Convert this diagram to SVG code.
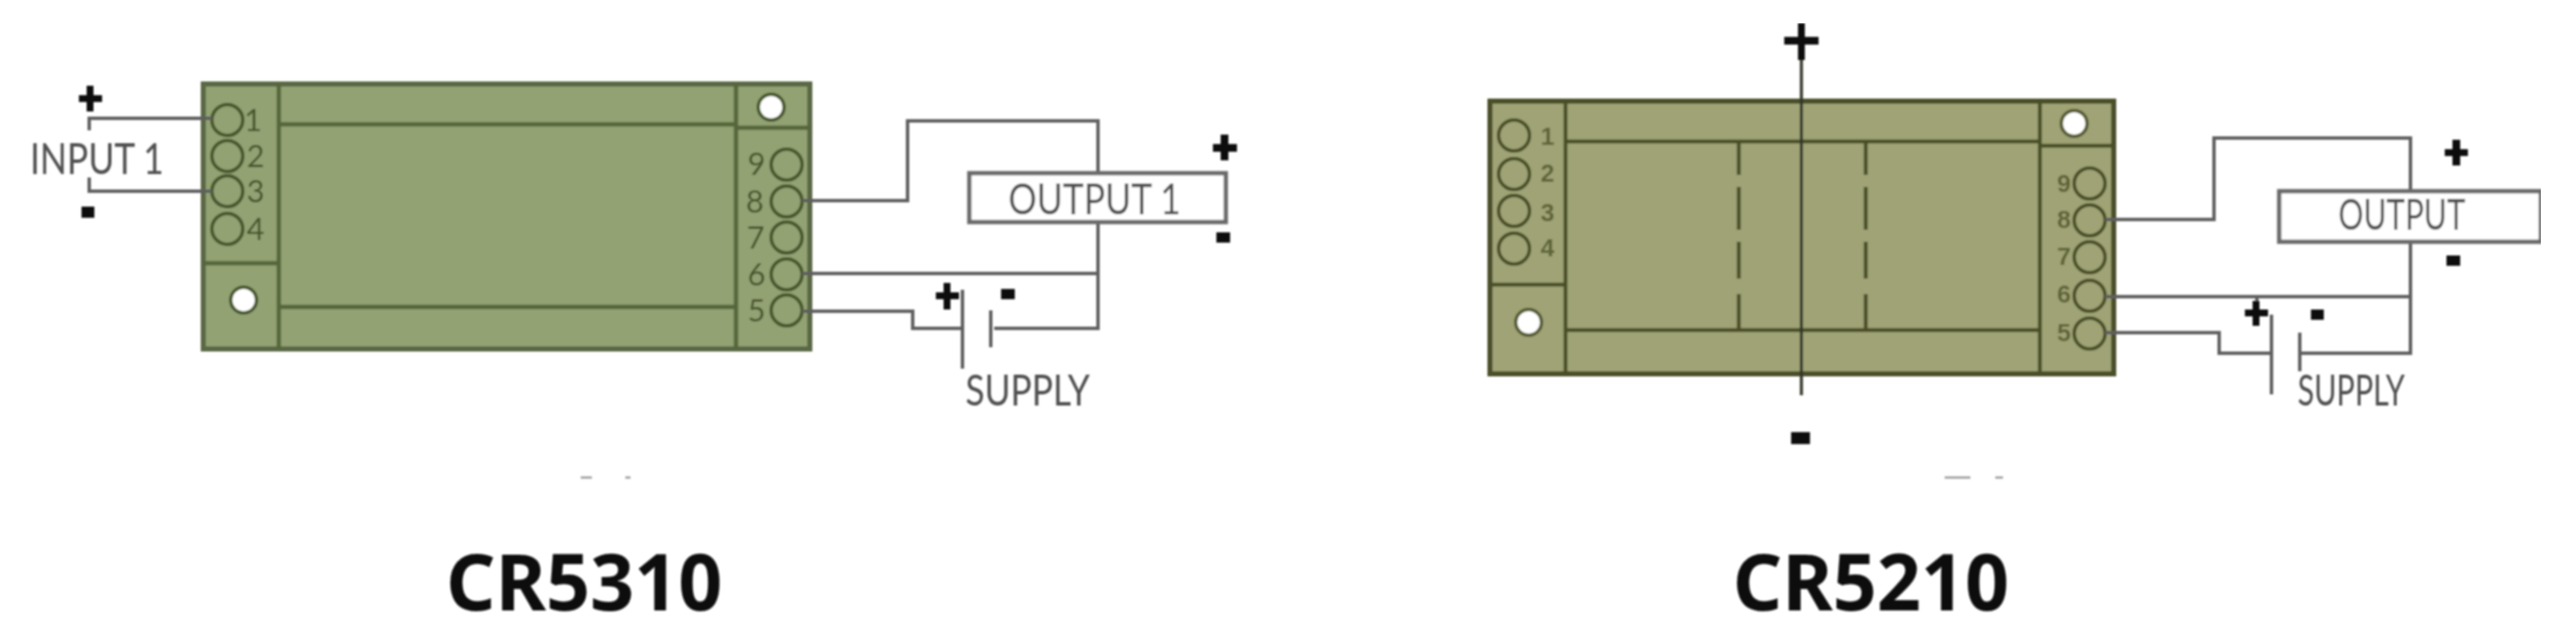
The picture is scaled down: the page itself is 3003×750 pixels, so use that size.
<svg xmlns="http://www.w3.org/2000/svg" width="3003" height="750" viewBox="0 0 3003 750">
<style>
.bg{fill:#fff}
.wire{fill:none;stroke:#5e5e5e;stroke-width:4}
.thin{fill:none;stroke:#33352a;stroke-width:3.5}
.a-body{fill:#93a273;stroke:#5a6844;stroke-width:6}
.a-line{fill:none;stroke:#55663a;stroke-width:5}
.a-term{fill:#93a273;stroke:#47572c;stroke-width:4}
.a-hole{fill:#fff;stroke:#47572c;stroke-width:4}
.a-num{font-family:"Lato","Liberation Sans",sans-serif;font-size:36px;fill:#47542c;text-anchor:middle}
.b-body{fill:#9fa374;stroke:#4b4f2c;stroke-width:6}
.b-line{fill:none;stroke:#4a4f28;stroke-width:4.5}
.b-term{fill:#9fa374;stroke:#4a4f28;stroke-width:4}
.b-hole{fill:#fff;stroke:#565b32;stroke-width:4}
.b-num{font-family:"Liberation Sans",sans-serif;font-weight:bold;font-size:29px;fill:#5f6338;text-anchor:middle}
.lab{font-family:"Lato","Liberation Sans",sans-serif;font-weight:400;font-size:50px;fill:#505050;text-anchor:middle}
.title{font-family:"Noto Sans","Open Sans",sans-serif;font-weight:bold;font-size:92px;fill:#0a0a0a;text-anchor:middle}
.box{fill:#fff;stroke:#6a6a6a;stroke-width:5}
.speck{fill:none;stroke:#999;stroke-width:2.5}
.mark{fill:#0d0d0d}
</style>
<defs><filter id="soft" x="0" y="0" width="100%" height="100%"><feGaussianBlur stdDeviation="1"/></filter></defs>
<rect class="bg" width="3003" height="750"/>
<g filter="url(#soft)">
<g id="unit-cr5310">
<rect class="a-body" x="237" y="98" width="707" height="309"/>
<path class="a-line" d="M325 98V407M858 98V407M325 145H858M858 149H944M237 307H325M325 358H858"/>
<ellipse class="a-hole" cx="899" cy="125" rx="15" ry="15"/>
<ellipse class="a-hole" cx="284" cy="350" rx="15" ry="15"/>
<circle class="a-term" cx="265" cy="140" r="18"/><circle class="a-term" cx="265" cy="182" r="18"/><circle class="a-term" cx="265" cy="223" r="18"/><circle class="a-term" cx="265" cy="267" r="18"/>
<text class="a-num" x="295" y="153">1</text><text class="a-num" x="298" y="195">2</text><text class="a-num" x="298" y="236">3</text><text class="a-num" x="298" y="280">4</text>
<circle class="a-term" cx="917" cy="192" r="18"/><circle class="a-term" cx="917" cy="235" r="18"/><circle class="a-term" cx="917" cy="277" r="18"/><circle class="a-term" cx="917" cy="320" r="18"/><circle class="a-term" cx="917" cy="362" r="18"/>
<text class="a-num" x="882" y="204">9</text><text class="a-num" x="880" y="248">8</text><text class="a-num" x="881" y="290">7</text><text class="a-num" x="882" y="333">6</text><text class="a-num" x="882" y="375">5</text>
</g>
<g id="unit-cr5210">
<rect class="b-body" x="1737" y="118" width="727" height="318"/>
<path class="b-line" d="M1825 118V436M2378 118V436M1825 165H2378M2378 170H2464M1737 332H1825M1825 385H2378"/>
<path class="b-line" d="M2027 165V204M2027 218V268M2027 282V325M2027 343V385M2175 165V204M2175 218V268M2175 282V325M2175 343V385"/>
<ellipse class="b-hole" cx="2418" cy="144" rx="15" ry="15"/>
<ellipse class="b-hole" cx="1782" cy="376" rx="15" ry="15"/>
<circle class="b-term" cx="1765" cy="158" r="18"/><circle class="b-term" cx="1765" cy="203" r="18"/><circle class="b-term" cx="1765" cy="246" r="18"/><circle class="b-term" cx="1765" cy="290" r="18"/>
<text class="b-num" x="1804" y="169">1</text><text class="b-num" x="1804" y="212">2</text><text class="b-num" x="1804" y="258">3</text><text class="b-num" x="1804" y="299">4</text>
<circle class="b-term" cx="2436" cy="214" r="18"/><circle class="b-term" cx="2436" cy="257" r="18"/><circle class="b-term" cx="2436" cy="300" r="18"/><circle class="b-term" cx="2436" cy="345" r="18"/><circle class="b-term" cx="2436" cy="389" r="18"/>
<text class="b-num" x="2406" y="224">9</text><text class="b-num" x="2406" y="266">8</text><text class="b-num" x="2406" y="309">7</text><text class="b-num" x="2406" y="353">6</text><text class="b-num" x="2406" y="398">5</text>
</g>
<g id="connectors">
<path class="wire" d="M104 152V138H247M104 207V223H247"/>
<path class="wire" d="M935 234H1058V141H1280V383H1159M935 319H1280M935 363H1064V383H1122"/>
<path class="wire" d="M1122 338V430M1155 362V405"/>
<path class="thin" d="M2100 68V461"/>
<path class="wire" d="M2454 256H2581V161H2810V412H2681M2454 346H2810M2454 388H2587V412H2648"/>
<path class="wire" d="M2631 346V356M2648 367V460M2681 388V433"/>
</g>
<g id="output-1"><rect class="box" x="1130" y="202" width="299" height="57"/><text class="lab" x="1276" y="250" textLength="201" lengthAdjust="spacingAndGlyphs">OUTPUT 1</text></g>
<g id="output"><rect class="box" x="2657" y="223" width="305" height="59"/><text class="lab" x="2800" y="268" font-size="44" textLength="148" lengthAdjust="spacingAndGlyphs">OUTPUT</text></g>
<g id="labels">
<text class="lab" x="113" y="203" textLength="156" lengthAdjust="spacingAndGlyphs">INPUT 1</text>
<text class="lab" x="1198" y="473" textLength="145" lengthAdjust="spacingAndGlyphs">SUPPLY</text>
<text class="lab" x="2741" y="473" textLength="125" lengthAdjust="spacingAndGlyphs">SUPPLY</text>
</g>
<g id="polarity">
<path class="mark" d="M92 111H101V100H109V111H119V119H109V130H101V119H92Z"/>
<rect class="mark" x="95" y="241" width="15" height="13"/>
<path class="mark" d="M1414 168H1423V157H1432V168H1442V177H1432V187H1423V177H1414Z"/>
<rect class="mark" x="1418" y="271" width="16" height="12"/>
<path class="mark" d="M1091 341H1100V330H1108V341H1118V349H1108V361H1100V349H1091Z"/>
<rect class="mark" x="1167" y="337" width="16" height="12"/>
<path class="mark" d="M2080 43H2096V27H2104V43H2120V52H2104V70H2096V52H2080Z"/>
<rect class="mark" x="2088" y="504" width="22" height="14"/>
<path class="mark" d="M2850 174H2859V163H2868V174H2877V182H2868V193H2859V182H2850Z"/>
<rect class="mark" x="2852" y="298" width="16" height="12"/>
<path class="mark" d="M2617 361H2626V351H2634V361H2644V369H2634V380H2626V369H2617Z"/>
<rect class="mark" x="2694" y="361" width="15" height="12"/>
</g>
<g id="specks">
<path class="speck" d="M677 557H690M729 557H735"/>
<path class="speck" d="M2267 557H2297M2326 557H2335"/>
</g>
<text class="title" x="681" y="712" textLength="322" lengthAdjust="spacingAndGlyphs">CR5310</text>
<text class="title" x="2181" y="712" textLength="322" lengthAdjust="spacingAndGlyphs">CR5210</text>
</g>
</svg>
